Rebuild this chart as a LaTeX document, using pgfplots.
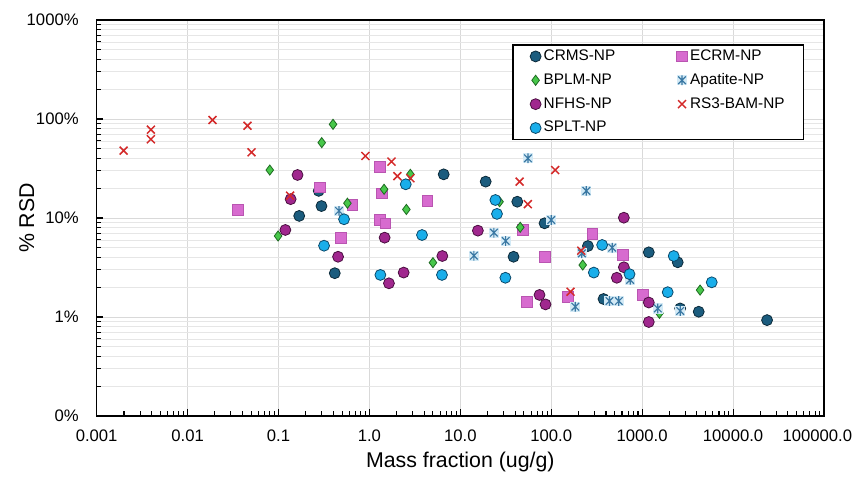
\documentclass[border=0pt]{standalone}
\usepackage{fontspec}
\setmainfont{Liberation Sans}
\usepackage{pgfplots}
\pgfplotsset{compat=1.18}
\definecolor{crms}{HTML}{1B5C7E}
\definecolor{crmsd}{HTML}{0B2A3A}
\definecolor{bplm}{HTML}{47C74A}
\definecolor{bplmd}{HTML}{1E6B22}
\definecolor{nfhs}{HTML}{A0278E}
\definecolor{nfhsd}{HTML}{4A0F40}
\definecolor{splt}{HTML}{19AEEA}
\definecolor{spltd}{HTML}{0B4A6B}
\definecolor{ecrm}{HTML}{D76BCF}
\definecolor{ecrmd}{HTML}{B955B1}
\definecolor{rsred}{HTML}{D42A2A}
\definecolor{apfill}{HTML}{D3EAF6}
\definecolor{apline}{HTML}{3A78A3}
\definecolor{gridc}{HTML}{D9D9D9}
\definecolor{gridm}{HTML}{E6E6E6}
\pgfdeclareplotmark{apat}{%
 \pgfpathrectangle{\pgfqpoint{-\pgfplotmarksize}{-\pgfplotmarksize}}{\pgfqpoint{2\pgfplotmarksize}{2\pgfplotmarksize}}%
 \pgfsetfillcolor{apfill}\pgfusepath{fill}%
 \pgfsetstrokecolor{apline}\pgfsetlinewidth{0.9pt}%
 \pgfpathmoveto{\pgfqpoint{-0.75\pgfplotmarksize}{-0.75\pgfplotmarksize}}\pgfpathlineto{\pgfqpoint{0.75\pgfplotmarksize}{0.75\pgfplotmarksize}}%
 \pgfpathmoveto{\pgfqpoint{-0.75\pgfplotmarksize}{0.75\pgfplotmarksize}}\pgfpathlineto{\pgfqpoint{0.75\pgfplotmarksize}{-0.75\pgfplotmarksize}}%
 \pgfpathmoveto{\pgfqpoint{0pt}{-0.95\pgfplotmarksize}}\pgfpathlineto{\pgfqpoint{0pt}{0.95\pgfplotmarksize}}%
 \pgfusepath{stroke}}
\begin{document}
\begin{tikzpicture}
\begin{axis}[
 xmode=log, ymode=log,
 scale only axis, width=545.5pt, height=297pt,
 xmin=0.001, xmax=100000, ymin=0.1, ymax=1000,
 xtick={0.001,0.01,0.1,1,10,100,1000,10000,100000},
 xticklabels={0.001,0.01,0.1,1.0,10.0,100.0,1000.0,10000.0,{\makebox[0pt]{\hspace{-10pt}100000.0}}},
 ytick={0.1,1,10,100,1000},
 yticklabels={0\%,1\%,10\%,100\%,1000\%},
 minor xtick={0.002,0.003,0.004,0.005,0.006,0.007,0.008,0.009,
  0.02,0.03,0.04,0.05,0.06,0.07,0.08,0.09,
  0.2,0.3,0.4,0.5,0.6,0.7,0.8,0.9,
  2,3,4,5,6,7,8,9,
  20,30,40,50,60,70,80,90,
  200,300,400,500,600,700,800,900,
  2000,3000,4000,5000,6000,7000,8000,9000,
  20000,30000,40000,50000,60000,70000,80000,90000},
 minor ytick={0.2,0.3,0.4,0.5,0.6,0.7,0.8,0.9,
  2,3,4,5,6,7,8,9,
  20,30,40,50,60,70,80,90,
  200,300,400,500,600,700,800,900},
 tick align=inside, xtick pos=bottom, ytick pos=left,
 major tick length=5pt, minor tick length=3.5pt,
 xmajorgrids, ymajorgrids, yminorgrids,
 major grid style={color=gridc, line width=0.6pt},
 minor grid style={color=gridm, line width=0.6pt},
 axis line style={line width=1.1pt, black},
 tick style={black, line width=0.8pt},
 ticklabel style={font=\fontsize{12.5}{15}\selectfont},
 xticklabel style={yshift=-7pt},
 yticklabel style={xshift=-10pt},
 /pgf/number format/assume math mode=true,
 xlabel={Mass fraction (ug/g)}, ylabel={\% RSD},
 label style={font=\fontsize{16}{19}\selectfont},
 xlabel style={at={(axis description cs:0.5,-0.116)},anchor=center},
 ylabel style={at={(axis description cs:-0.096,0.5)},anchor=center},
 legend columns=2,
 legend cell align=left,
 legend style={at={(0.9725,0.939)}, anchor=north east, draw=black, line width=1.1pt,
   font=\fontsize{11.5}{13.5}\selectfont,
   nodes={text height=8.3pt, text depth=2.4pt, inner ysep=1.8pt},
   row sep=3.6pt, inner ysep=1.5pt, inner xsep=12pt,
   /tikz/column 2/.style={column sep=43pt}},
 legend image code/.code={\path (-4.5pt,0pt); \draw[#1,line width=0.6pt] plot coordinates {(0pt,0pt)};},
]
\addplot[only marks, mark=*, mark size=4.1pt, mark options={fill=crms, draw=crmsd, line width=0.6pt}] coordinates {
(0.277,18.8) (0.297,13.2) (0.169,10.5) (0.416,2.77) (6.56,27.6) (19.0,23.3) (42.3,14.6) (84.4,8.84) (38.5,4.06) (253,5.21) (376,1.52) (1183,4.50) (2460,3.57) (2617,1.22) (4188,1.13) (23650,0.93)};
\addlegendentry{CRMS-NP}
\addplot[only marks, mark=square*, mark size=4pt, mark options={fill=ecrm, draw=ecrmd, line width=0.5pt}] coordinates {
(0.0357,12.1) (0.284,20.4) (0.65,13.5) (0.484,6.33) (1.30,33.0) (1.38,17.7) (1.30,9.55) (1.50,8.84) (4.33,15.0) (48.8,7.57) (84.4,4.06) (54,1.43) (152,1.60) (282,6.9) (612,4.22) (1016,1.67)};
\addlegendentry{ECRM-NP}
\addplot[only marks, mark=diamond*, mark size=3.8pt, mark options={fill=bplm, draw=bplmd, line width=0.6pt}] coordinates {
(0.0802,30.5) (0.299,57.7) (0.398,88.3) (0.099,6.58) (0.573,14.1) (1.45,19.5) (2.82,27.6) (2.55,12.2) (5.0,3.54) (27.0,14.6) (45.6,8.06) (222,3.35) (1549,1.09) (4335,1.87)};
\addlegendentry{BPLM-NP}
\addplot[only marks, mark=apat, mark size=3.8pt] coordinates {
(0.463,11.8) (55.4,40.1) (243,18.8) (100,9.55) (23.4,7.1) (31.5,5.86) (14.1,4.16) (217,4.39) (184,1.27) (468,5.01) (437,1.45) (554,1.45) (738,2.37) (1486,1.22) (2618,1.15)};
\addlegendentry{Apatite-NP}
\addplot[only marks, mark=*, mark size=4.1pt, mark options={fill=nfhs, draw=nfhsd, line width=0.6pt}] coordinates {
(0.162,27.2) (0.136,15.5) (0.119,7.57) (0.452,4.06) (1.47,6.33) (1.64,2.19) (2.38,2.81) (6.34,4.13) (15.6,7.45) (74.3,1.67) (86.5,1.34) (629,10.07) (629,3.18) (526,2.49) (1183,1.40) (1183,0.89)};
\addlegendentry{NFHS-NP}
\addplot[only marks, mark=x, mark size=4.2pt, mark options={draw=rsred, line width=1.1pt}] coordinates {
(0.00198,47.9) (0.00395,78) (0.00395,62.4) (0.0188,97.7) (0.0456,85.5) (0.0505,46.1) (0.134,16.8) (0.904,42.3) (1.75,37.1) (2.03,26.5) (2.82,25.2) (44.9,23.3) (55.3,13.8) (110.6,30.5) (214,4.68) (163,1.80)};
\addlegendentry{RS3-BAM-NP}
\addplot[only marks, mark=*, mark size=4.1pt, mark options={fill=splt, draw=spltd, line width=0.6pt}] coordinates {
(0.526,9.71) (0.317,5.25) (2.51,21.9) (1.32,2.66) (3.79,6.73) (6.28,2.66) (24.3,15.2) (25.3,11.0) (31.3,2.49) (363,5.34) (294,2.81) (726,2.71) (2223,4.13) (1910,1.78) (5824,2.24)};
\addlegendentry{SPLT-NP}
\coordinate (bbsw) at (rel axis cs:0,0);
\coordinate (bbne) at (rel axis cs:1,1);
\end{axis}
\path ([shift={(-72.5pt,-44.25pt)}]bbsw) rectangle ([shift={(21.75pt,15pt)}]bbne);
\end{tikzpicture}
\end{document}
